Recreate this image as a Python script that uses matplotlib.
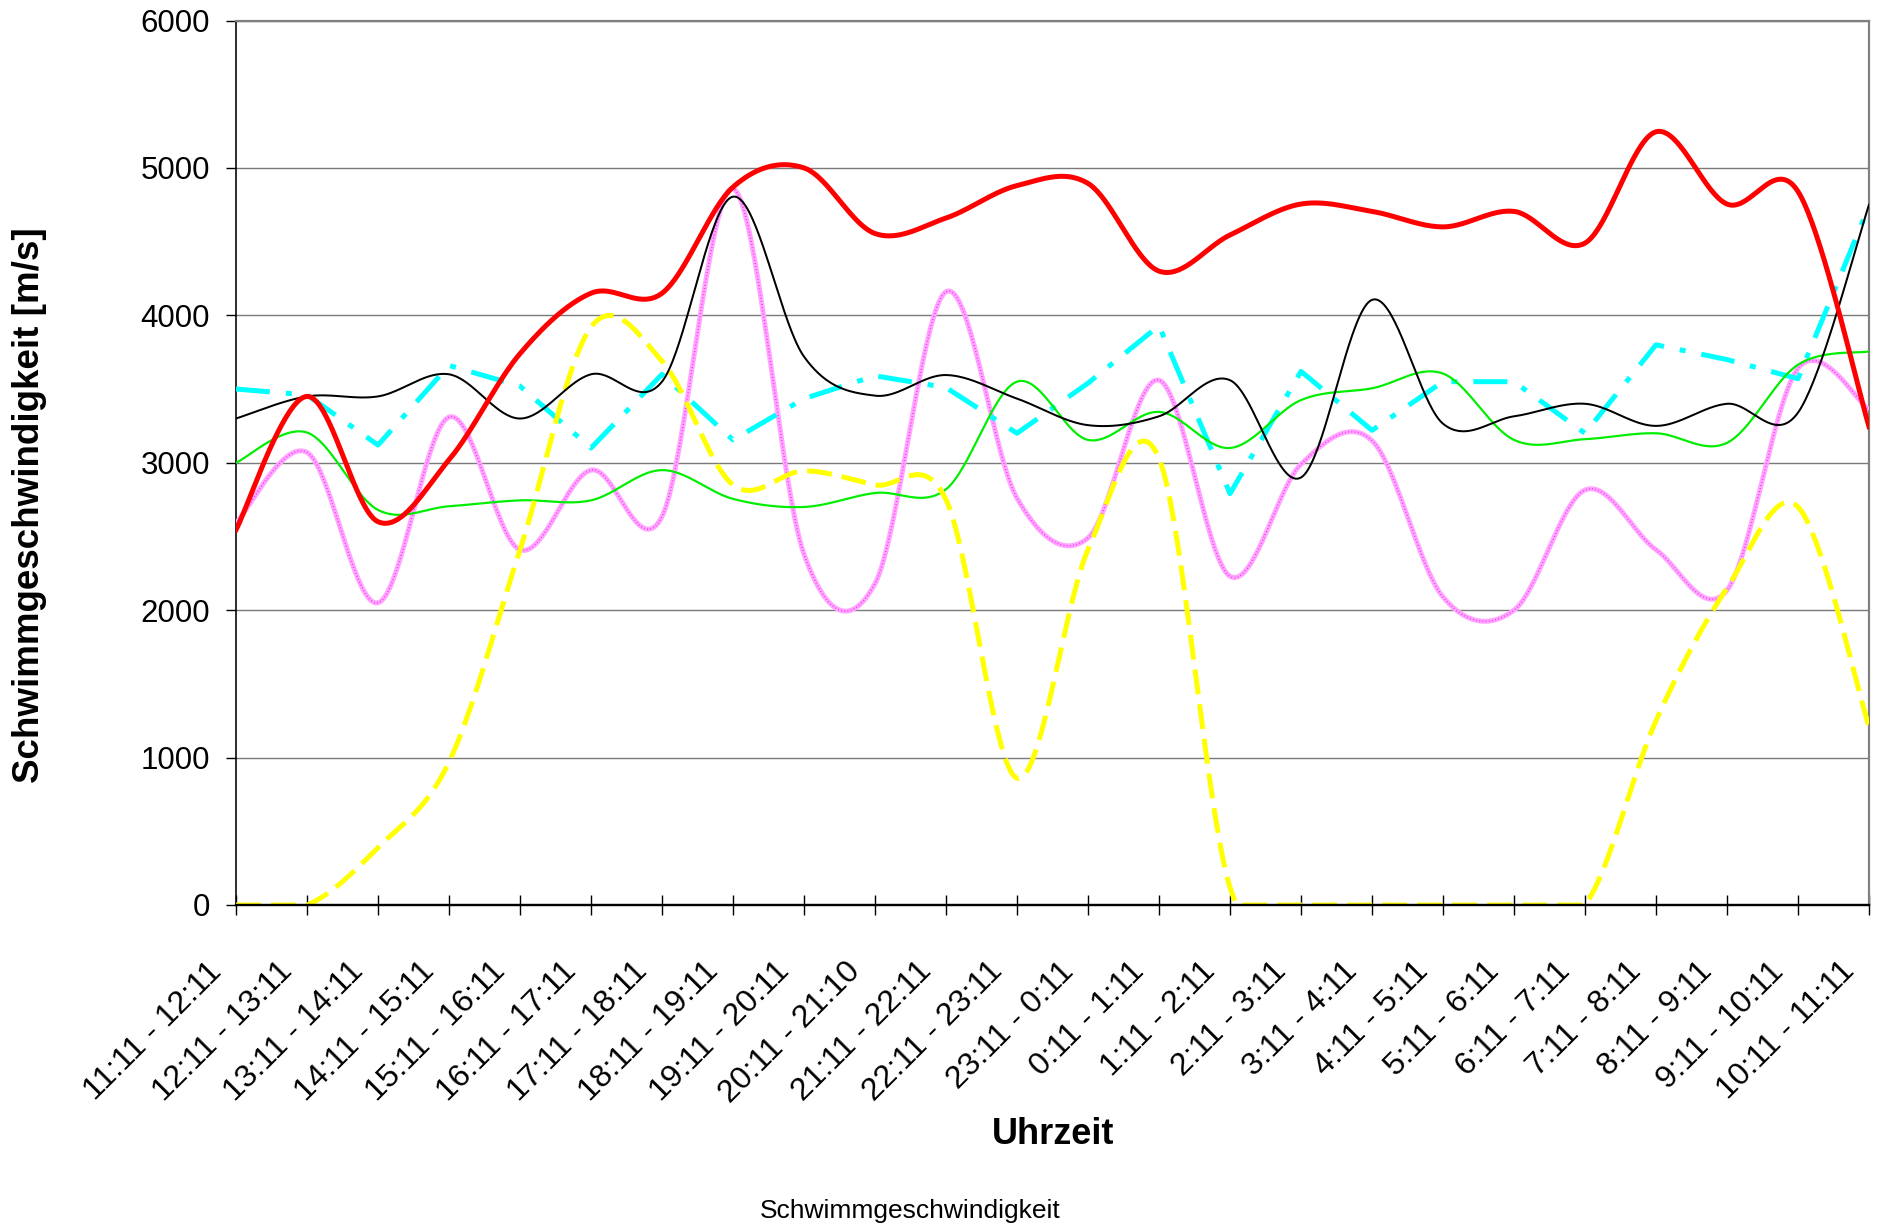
import numpy as np
import matplotlib
matplotlib.use("Agg")
import matplotlib.pyplot as plt
from matplotlib.transforms import ScaledTranslation

plt.rcParams['font.family'] = ['Liberation Sans', 'DejaVu Sans']

categories = ["11:11 - 12:11", "12:11 - 13:11", "13:11 - 14:11", "14:11 - 15:11",
              "15:11 - 16:11", "16:11 - 17:11", "17:11 - 18:11", "18:11 - 19:11",
              "19:11 - 20:11", "20:11 - 21:10", "21:11 - 22:11", "22:11 - 23:11",
              "23:11 - 0:11", "0:11 - 1:11", "1:11 - 2:11", "2:11 - 3:11",
              "3:11 - 4:11", "4:11 - 5:11", "5:11 - 6:11", "6:11 - 7:11",
              "7:11 - 8:11", "8:11 - 9:11", "9:11 - 10:11", "10:11 - 11:11"]

red_values = [2545, 3450, 2600, 3020, 3740, 4150, 4150, 4870, 5000, 4555, 4660, 4880,
              4895, 4300, 4545, 4755, 4705, 4600, 4705, 4490, 5245, 4755, 4840, 3245]
black_values = [3300, 3450, 3450, 3600, 3300, 3600, 3550, 4805, 3720, 3455, 3595, 3435,
                3255, 3315, 3560, 2900, 4105, 3265, 3315, 3400, 3250, 3400, 3340, 4750]
cyan_values = [3500, 3460, 3120, 3660, 3520, 3100, 3600, 3155, 3435, 3590, 3510, 3200,
               3540, 3930, 2790, 3620, 3220, 3550, 3550, 3200, 3800, 3700, 3570, 4740]
green_values = [3000, 3205, 2680, 2705, 2745, 2745, 2950, 2755, 2700, 2795, 2820, 3550,
                3155, 3345, 3100, 3425, 3505, 3605, 3155, 3160, 3200, 3135, 3665, 3755]
pink_values = [2590, 3070, 2050, 3310, 2410, 2950, 2635, 4860, 2380, 2180, 4160, 2760,
               2490, 3560, 2230, 2990, 3150, 2090, 2000, 2815, 2410, 2135, 3640, 3360]
yellow_values = [0, 0, 390, 970, 2410, 3920, 3690, 2850, 2945, 2850, 2750, 860,
                 2410, 3030, 120, 0, 0, 0, 0, 0, 1250, 2150, 2700, 1210]

y_ticks = [0, 1000, 2000, 3000, 4000, 5000, 6000]


def smooth(xs, ys, n=40):
    """Excel-style smoothed line (Catmull-Rom Bezier through the points)."""
    P = np.column_stack([np.asarray(xs, float), np.asarray(ys, float)])
    N = len(P)
    segs = []
    for i in range(N - 1):
        p0 = P[i - 1] if i > 0 else P[i]
        p1, p2 = P[i], P[i + 1]
        p3 = P[i + 2] if i + 2 < N else P[i + 1]
        c1 = p1 + (p2 - p0) / 6.0
        c2 = p2 - (p3 - p1) / 6.0
        t = np.linspace(0, 1, n, endpoint=(i == N - 2))[:, None]
        segs.append((1 - t) ** 3 * p1 + 3 * (1 - t) ** 2 * t * c1
                    + 3 * (1 - t) * t ** 2 * c2 + t ** 3 * p2)
    S = np.vstack(segs)
    return S[:, 0], S[:, 1]


W, H = 1877, 1231
fig = plt.figure(figsize=(W / 100, H / 100), dpi=100)
L, R, T, B = 236, 1869, 20.5, 905
ax = fig.add_axes([L / W, 1 - B / H, (R - L) / W, (B - T) / H])

x = np.arange(len(categories))
px = 0.72  # points per pixel

# grid
for v in y_ticks[1:]:
    ax.axhline(v, color='#7a7a7a', lw=1.4 * px, zorder=1)

# series (bottom to top)
sx, sy = smooth(x, pink_values)
ax.plot(sx, sy, color='#ffa6ff', lw=5 * px, solid_capstyle='butt', zorder=3)
ax.plot(sx, sy, color='#ff30ff', lw=1.6 * px, linestyle=(0, (0.6, 1.4)), zorder=3.1)

ax.plot(x, cyan_values, color='#00ffff', lw=5 * px,
        linestyle=(0, (6.8, 3.2, 1.2, 3.2)), dash_capstyle='butt', zorder=4)

sx, sy = smooth(x, green_values)
ax.plot(sx, sy, color='#00ee00', lw=2.2 * px, zorder=5)

sx, sy = smooth(x, yellow_values)
ax.plot(sx, np.maximum(sy, 0), color='#ffff00', lw=5 * px, linestyle=(0, (5.0, 2.0)),
        dash_capstyle='butt', zorder=6)

sx, sy = smooth(x, black_values)
ax.plot(sx, sy, color='black', lw=2.0 * px, zorder=7)

sx, sy = smooth(x, red_values)
ax.plot(sx, sy, color='#ff0000', lw=5 * px, zorder=8)

ax.set_xlim(0, len(categories) - 1)
ax.set_ylim(0, 6000)

# spines
for s in ['top', 'right']:
    ax.spines[s].set_color('#808080')
    ax.spines[s].set_linewidth(2.2 * px)
ax.spines['left'].set_color('black')
ax.spines['left'].set_linewidth(1.6 * px)
ax.spines['bottom'].set_color('black')
ax.spines['bottom'].set_linewidth(2.4 * px)
ax.spines['bottom'].set_zorder(9)

ax.set_yticks(y_ticks)
ax.set_yticklabels([str(v) for v in y_ticks])
ax.tick_params(axis='y', direction='out', length=10 * px, width=1.4 * px,
               pad=16 * px, labelsize=22.5)

ax.set_xticks(x)
ax.set_xticklabels(categories, rotation=45, ha='right', va='center',
                   rotation_mode='anchor')
ax.tick_params(axis='x', direction='inout', length=20 * px, width=1.4 * px,
               pad=52 * px, labelsize=23)
off = ScaledTranslation(-19 / 100, 0, fig.dpi_scale_trans)
for lab in ax.get_xticklabels():
    lab.set_transform(lab.get_transform() + off)

fig.text(30 / W, 1 - 505.6 / H, 'Schwimmgeschwindigkeit [m/s]', rotation=90,
         ha='center', va='center', fontsize=26.5, fontweight='bold')
fig.text(1053 / W, 1 - 1135 / H, 'Uhrzeit', ha='center', va='center',
         fontsize=26, fontweight='bold')
fig.text(910 / W, 1 - 1211 / H, 'Schwimmgeschwindigkeit', ha='center', va='center',
         fontsize=19)

fig.savefig('out.png', dpi=100)
